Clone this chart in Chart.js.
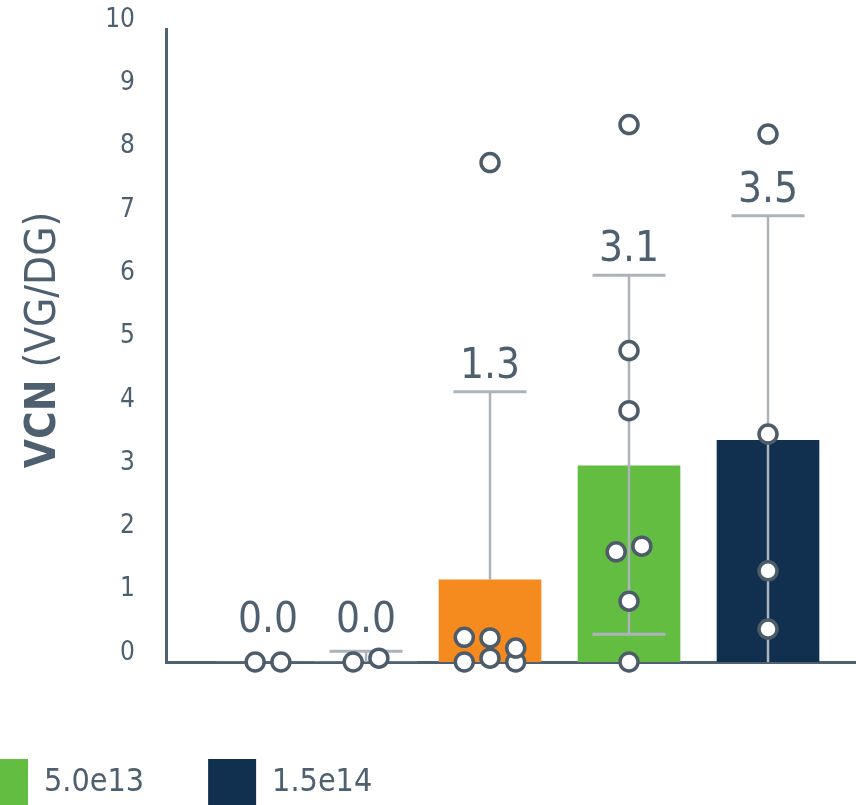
<!DOCTYPE html>
<html>
<head>
<meta charset="utf-8">
<title>VCN by dose</title>
<script src="https://cdn.jsdelivr.net/npm/chart.js@4.4.1/dist/chart.umd.min.js"></script>
<style>
  html, body { margin: 0; padding: 0; background: #fff; overflow: hidden; }
  #wrap { position: relative; width: 856px; height: 805px; overflow: hidden; }
  #vcn { position: absolute; left: -84px; top: 0; }
</style>
</head>
<body>
<div id="wrap"><canvas id="vcn" width="940" height="817"></canvas></div>
<script>
// dose groups, left to right
const doses = ['Vehicle', '5.0e12', '1.5e13', '5.0e13', '1.5e14'];
const means = [0.0, 0.0, 1.3, 3.1, 3.5];
// whisker ends, null = not drawn
const errUpper = [null, 0.17, 4.27, 6.11, 7.05];
const errLower = [null, null, null, 0.44, -0.03];
// individual animals per group
const g1 = [0, 0];
const g2 = [0, 0.06];
const g3 = [0, 0.06, 0, 0.39, 0.38, 0.22, 7.89];
const g4 = [8.49, 4.92, 3.97, 1.74, 1.83, 0.96, 0];
const g5 = [8.34, 3.6, 1.44, 0.52];
const yTicks = [0, 1, 2, 3, 4, 5, 6, 7, 8, 9, 10];

const barColors = ['#9aa4ae', '#c7ccd2', '#f58a1f', '#62bd41', '#11304f'];
const textColor = '#4e5f6f';
const axisColor = '#4f6070';
const whiskerColor = '#adb3bb';
const FONT = "'DejaVu Sans Condensed', 'DejaVu Sans', sans-serif";

// where each group sits on the (hidden) x axis
const slotX = [1.403, 2.108, 3, 4, 5];
const dodge = 0.185;     // sideways step between overlapping dots
const binSize = 0.3;     // dots closer than this share a row
const labelFloor = 0.25; // value labels never sit lower than this

const groups = [g1, g2, g3, g4, g5];

// spread dots that share a row evenly around the group centre
const dots = [];
groups.forEach((vals, gi) => {
  const rows = {};
  vals.forEach(v => {
    const k = Math.round(v / binSize);
    (rows[k] = rows[k] || []).push(v);
  });
  Object.values(rows).forEach(row => {
    row.forEach((v, j) => {
      dots.push({ x: slotX[gi] + (j - (row.length - 1) / 2) * dodge, y: v });
    });
  });
});

const barSets = doses.map((d, i) => ({
  type: 'bar',
  label: d,
  data: [{ x: slotX[i], y: means[i] }],
  backgroundColor: barColors[i],
  borderWidth: 0,
  barThickness: 102,
  grouped: false,
  order: 2
}));

const dotSet = {
  type: 'scatter',
  label: 'animals',
  data: dots,
  pointRadius: 9,
  pointBorderWidth: 3.5,
  pointBackgroundColor: '#ffffff',
  pointBorderColor: '#4e5c6a',
  clip: false,
  order: 0
};

// SD whiskers under the dots, mean labels above the caps
const whiskers = {
  id: 'whiskers',
  beforeDatasetDraw(chart, args) {
    if (args.meta.type !== 'scatter') return;
    const ctx = chart.ctx, xs = chart.scales.x, ys = chart.scales.y;
    ctx.save();
    ctx.strokeStyle = whiskerColor;
    errUpper.forEach((up, i) => {
      if (up === null) return;
      const x = xs.getPixelForValue(slotX[i]);
      const yTop = ys.getPixelForValue(up);
      const low = errLower[i];
      const yBot = ys.getPixelForValue(low === null ? means[i] : Math.max(low, 0));
      ctx.lineWidth = 2.5;
      ctx.beginPath();
      ctx.moveTo(x, yTop);
      ctx.lineTo(x, yBot);
      ctx.stroke();
      ctx.lineWidth = 3;
      ctx.beginPath();
      ctx.moveTo(x - 36.5, yTop);
      ctx.lineTo(x + 36.5, yTop);
      if (low !== null && low > 0) {
        ctx.moveTo(x - 36.5, yBot);
        ctx.lineTo(x + 36.5, yBot);
      }
      ctx.stroke();
    });
    ctx.restore();
  },
  afterDatasetsDraw(chart) {
    const ctx = chart.ctx, xs = chart.scales.x, ys = chart.scales.y;
    ctx.save();
    ctx.fillStyle = textColor;
    ctx.font = '42px ' + FONT;
    ctx.textAlign = 'center';
    ctx.textBaseline = 'alphabetic';
    means.forEach((m, i) => {
      const top = Math.max(errUpper[i] === null ? 0 : errUpper[i], labelFloor);
      ctx.fillText(m.toFixed(1), xs.getPixelForValue(slotX[i]), ys.getPixelForValue(top) - 14);
    });
    ctx.restore();
  }
};

// y title with a bold quantity and a regular unit
const yTitle = {
  id: 'yTitle',
  afterDraw(chart) {
    const ctx = chart.ctx;
    const boldFont = 'bold 42px ' + FONT, plainFont = '42px ' + FONT;
    ctx.save();
    ctx.translate(139, 340);
    ctx.rotate(-Math.PI / 2);
    ctx.fillStyle = textColor;
    ctx.textBaseline = 'alphabetic';
    ctx.textAlign = 'left';
    ctx.font = boldFont;
    const w1 = ctx.measureText('VCN').width;
    ctx.font = plainFont;
    const w2 = ctx.measureText(' (VG/DG)').width;
    const x0 = -(w1 + w2) / 2;
    ctx.font = boldFont;
    ctx.fillText('VCN', x0, 0);
    ctx.font = plainFont;
    ctx.fillText(' (VG/DG)', x0 + w1, 0);
    ctx.restore();
  }
};

// keep tick-label overflow from nudging the plot area
const noEdgePad = s => {
  s.paddingTop = 0; s.paddingBottom = 0; s.paddingLeft = 0; s.paddingRight = 0;
};

Chart.defaults.font.family = FONT;
Chart.defaults.color = textColor;

new Chart(document.getElementById('vcn'), {
  type: 'bar',
  data: { datasets: barSets.concat([dotSet]) },
  options: {
    responsive: false,
    animation: false,
    events: [],
    layout: { autoPadding: false, padding: { top: 29, left: 0, right: 0, bottom: 0 } },
    scales: {
      x: {
        type: 'linear',
        min: 0.669,
        max: 5.633,
        offset: false,
        ticks: { display: false },
        grid: { display: false, drawTicks: false },
        border: { display: true, color: axisColor, width: 3 },
        afterFit: s => { s.height = 33; noEdgePad(s); }
      },
      y: {
        min: yTicks[0],
        max: yTicks[yTicks.length - 1],
        afterBuildTicks: s => { s.ticks = yTicks.map(v => ({ value: v })); },
        ticks: { color: textColor, font: { size: 26 }, padding: 31, labelOffset: -9 },
        grid: { display: false, drawTicks: false },
        border: { display: true, color: axisColor, width: 3 },
        afterFit: s => { s.width = 250; noEdgePad(s); }
      }
    },
    plugins: {
      tooltip: { enabled: false },
      legend: {
        position: 'bottom',
        align: 'start',
        labels: {
          boxWidth: 48,
          boxHeight: 48,
          padding: 64,
          color: textColor,
          font: { size: 32 },
          filter: item => item.datasetIndex === 3 || item.datasetIndex === 4
        }
      }
    }
  },
  plugins: [whiskers, yTitle]
});
</script>
</body>
</html>
